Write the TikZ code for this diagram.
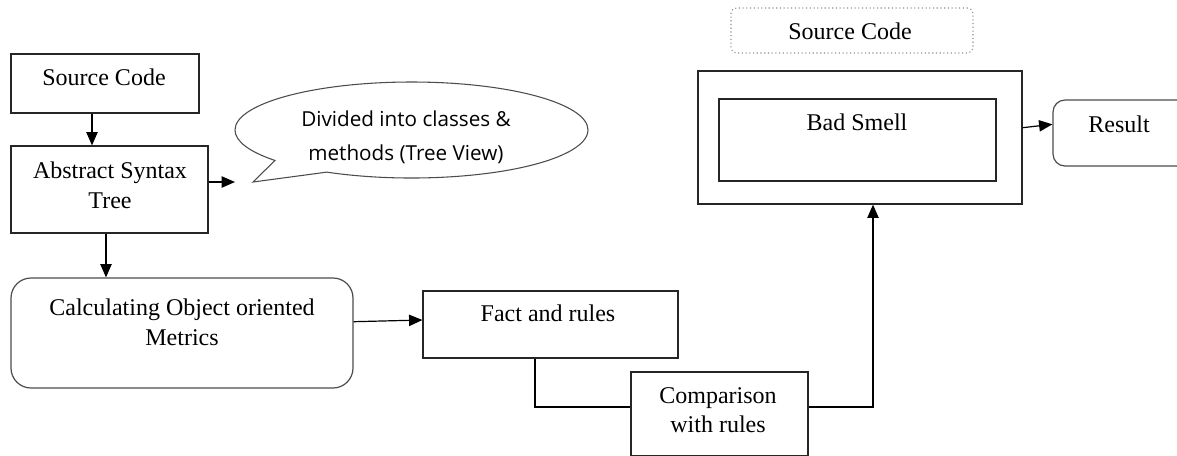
\documentclass[tikz,border=0pt]{standalone}
\usepackage{fontspec}
\setmainfont{Liberation Serif}
\newfontfamily\calloutfont{Open Sans}
\usetikzlibrary{shapes.callouts,arrows.meta}
\begin{document}
\begin{tikzpicture}[x=0.75pt,y=-0.75pt,
  box/.style={draw=black!85,line width=0.9pt,inner sep=0pt,rectangle},
  rbox/.style={draw=black!70,line width=0.9pt,inner sep=0pt,rectangle,rounded corners=#1},
  dotbox/.style={draw=black!45,dotted,line width=0.8pt,inner sep=0pt,rectangle,rounded corners=4pt},
  lbl/.style={inner sep=0pt,anchor=base,align=center,font=\fontsize{18}{22.5}\selectfont},
  arr/.style={line width=0.9pt,-{Triangle[length=10pt,width=8.5pt]}},
  con/.style={line width=0.9pt}]
\fill[white] (0,0) rectangle (1177,455);
\useasboundingbox (0,0) rectangle (1177,455);

% boxes
\node[box,minimum width=141pt,minimum height=44.25pt] (sc) at (105,83.5) {};
\node[box,minimum width=147.75pt,minimum height=65.25pt] (ast) at (109.5,189.5) {};
\node[rbox=15pt,minimum width=256.5pt,minimum height=82.5pt] (calc) at (182,333) {};
\node[box,minimum width=191.25pt,minimum height=50.25pt] (fact) at (550.5,324.5) {};
\node[box,minimum width=132.75pt,minimum height=63pt] (cmp) at (719.5,414) {};
\node[box,minimum width=243pt,minimum height=99.75pt] (outer) at (860,137.5) {};
\node[box,minimum width=207.75pt,minimum height=61.5pt] (inner) at (857.5,140) {};
\node[dotbox,minimum width=181.5pt,minimum height=33.75pt] (src2) at (852,30.5) {};
\node[rbox=9pt,minimum width=102.75pt,minimum height=49.5pt] (result) at (1121.5,133) {};
\node[ellipse callout,draw=black!70,line width=0.8pt,inner sep=0pt,
      minimum width=264.75pt,minimum height=72pt,callout pointer arc=22,
      callout absolute pointer={(253,182)}] (bubble) at (411.5,130) {};

% texts (anchor base = baseline of the last line)
\node[lbl] (tsc) at (104,85) {Source Code};
\node[lbl] (tast) at (110,208) {Abstract Syntax\\Tree};
\node[lbl] (tcalc) at (182,345) {Calculating Object oriented\\Metrics};
\node[lbl] (tfact) at (548,321) {Fact and rules};
\node[lbl,font=\fontsize{18}{21.75}\selectfont] (tcmp) at (718,432) {Comparison\\with rules};
\node[lbl] (tsrc2) at (850,39) {Source Code};
\node[lbl] (tbad) at (857,130) {Bad Smell};
\node[lbl] (tres) at (1119,132) {Result};
\node[lbl,font=\calloutfont\fontsize{15.5}{25.5}\selectfont] (tbub) at (406,160) {Divided into classes \&\\methods (Tree View)};

% helper coordinates
\coordinate (x92) at (92,0);
\coordinate (x106) at (106,0);
\coordinate (x535) at (535,0);
\coordinate (x873) at (873,0);
\coordinate (y182) at (0,182);
\coordinate (cend) at (235,182);
\coordinate (ya) at (0,321.7);
\coordinate (yb) at (0,320);
\coordinate (y407) at (0,407);
\coordinate (yc) at (0,127.7);
\coordinate (yd) at (0,124.3);

% connectors
\draw[arr] (sc.south -| x92) -- (ast.north -| x92);
\draw[arr] (ast.east |- y182) -- (cend);
\draw[arr] (ast.south -| x106) -- (calc.north -| x106);
\draw[arr] (calc.east |- ya) -- (fact.west |- yb);
\draw[con] (fact.south -| x535) |- (cmp.west |- y407);
\draw[arr] (cmp.east |- y407) -| (outer.south -| x873);
\draw[arr] (outer.east |- yc) -- (result.west |- yd);
\end{tikzpicture}
\end{document}
